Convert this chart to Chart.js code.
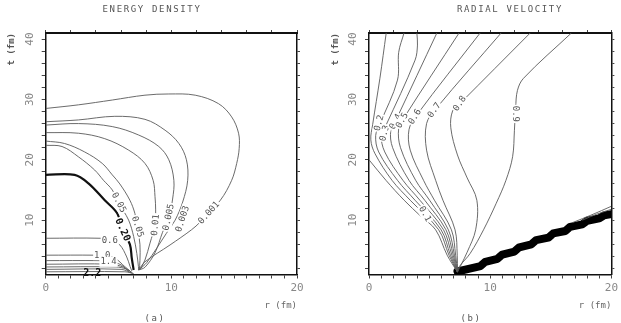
<!DOCTYPE html>
<html>
<head>
<meta charset="utf-8">
<title>Energy density and radial velocity</title>
<script src="https://cdn.jsdelivr.net/npm/chart.js@4.4.0/dist/chart.umd.min.js"></script>
<style>
  html, body { margin: 0; padding: 0; background: #fff; }
  #wrap { position: relative; width: 621px; height: 323px; overflow: hidden; }
  canvas { position: absolute; top: 0; }
  #left { left: 0; }
  #right { left: 324px; }
  .cap { position: absolute; font-family: "DejaVu Sans Mono", monospace; color: #555;
         white-space: nowrap; transform: translateX(-50%); }
  .head { top: 4px; font-size: 9px; letter-spacing: 1.65px; }
  .sub { top: 313px; font-size: 9px; letter-spacing: 1.5px; }
</style>
</head>
<body>
<div id="wrap">
  <canvas id="left" width="310" height="323"></canvas>
  <canvas id="right" width="297" height="323"></canvas>
  <div class="cap head" style="left:152px">ENERGY DENSITY</div>
  <div class="cap head" style="left:510px">RADIAL VELOCITY</div>
  <div class="cap sub" style="left:155px">(a)</div>
  <div class="cap sub" style="left:471px">(b)</div>
</div>
<script>
// tick labels shared by both panels
var xTickLabels = ["0", "10", "20"];
var yTickLabels = ["10", "20", "30", "40"];

// ---- (a) energy density contours, points are [r, t] in fm ----
var ed0001 = [[0,28.5],[2.6,29.1],[5.3,29.9],[7.9,30.7],[9.8,30.9],[11.9,30.7],[13.75,29.3],[14.8,27.1],[15.35,24.4],[15.4,21.9],[15.2,19.4],[14.8,16.6],[13.9,13.3],[12.3,9.7],[11.6,8.4],[9.9,5.9],[7.9,3.1],[7.4,1.75]];
var ed0003 = [[0,26.3],[2.6,26.6],[5.5,27.2],[7.9,26.7],[9.5,24.9],[10.6,22.7],[11.2,20.0],[11.3,16.6],[10.9,13.0],[10.3,10.0],[9.6,7.8],[8.05,3.0],[7.4,1.75]];
var ed0005 = [[0,25.75],[2.6,26.0],[5.3,25.5],[7.4,24.1],[9.0,22.2],[9.8,20.0],[10.2,16.6],[10.1,13.5],[9.8,10.5],[9.3,8.0],[8.7,4.6],[7.9,2.2],[7.4,1.75]];
var ed001 = [[0,24.5],[2.6,24.4],[4.7,23.5],[6.6,21.6],[7.9,19.4],[8.55,16.6],[8.7,13.9],[8.75,11.7],[8.7,9.2],[8.3,6.2],[7.9,3.4],[7.5,1.75]];
var ed005b = [[0,23.1],[1.5,22.7],[3.1,21.3],[4.5,19.4],[5.3,17.5],[5.9,16.0],[6.7,13.3],[7.1,11.1],[7.3,8.9],[7.5,6.0],[7.5,3.3],[7.45,1.75]];
var ed005a = [[0,22.4],[1.3,22.2],[2.6,20.5],[3.9,18.3],[4.6,16.6],[5.3,15.0],[5.8,12.9],[6.6,10.0],[7.0,7.3],[7.25,4.5],[7.38,2.3],[7.4,1.75]];
var ed020 = [[0,17.5],[2.3,17.5],[3.4,16.1],[4.7,13.3],[5.7,11.1],[6.1,8.4],[6.7,6.0],[6.85,3.7],[7.0,1.75]];
var ed06 = [[0,7.0],[4.4,7.0],[5.2,6.7],[5.9,5.9],[6.45,3.9],[6.72,2.3],[6.85,1.6]];
var ed10 = [[0,4.2],[3.9,4.2],[4.6,4.1],[5.5,3.7],[6.3,2.3],[6.7,1.6]];
var ed14 = [[0,3.3],[4.3,3.3],[5.0,3.2],[6.0,2.6],[6.6,1.5]];
var ed18 = [[0,2.7],[5.2,2.7],[6.2,2.2],[6.8,1.4]];
var ed22 = [[0,2.25],[5.6,2.25],[6.4,1.9],[6.9,1.3]];
var ed26 = [[0,1.85],[6.0,1.85],[6.9,1.2]];
var ed30 = [[0,1.45],[6.3,1.45],[7.0,1.15]];
var edLines = [ed0001, ed0003, ed0005, ed001, ed005b, ed005a, ed020, ed06, ed10, ed14, ed18, ed22, ed26, ed30];
var edLevels = ["0.001","0.003","0.005","0.01","0.05","0.05","0.20","0.6","1.0","1.4","1.8","2.2","2.6","3.0"];

// contour labels of (a)
var edLabelText = ["0.05","0.05","0.01","0.005","0.003","0.001","0.20","0.6","1.0","1.4","2.2"];
var edLabelR = [5.8, 7.3, 8.75, 9.8, 10.9, 13.0, 6.1, 5.1, 4.5, 5.0, 3.7];
var edLabelT = [12.9, 8.9, 9.2, 10.5, 10.2, 11.2, 8.4, 6.6, 4.2, 3.1, 1.1];
var edLabelAngle = [62, 72, -85, -78, -72, -48, 65, 0, 0, 0, 0];

// ---- (b) radial velocity contours, points are [r, t] in fm ----
var rv00 = [[0,20.0],[1.4,16.6],[2.9,13.3],[4.3,10.6],[5.5,8.4],[6.45,4.2],[7.3,1.4]];
var rv01 = [[1.42,41],[0.9,33.5],[0.3,25.8],[0.15,23.3],[0.5,21.0],[1.9,16.6],[3.4,13.3],[5.75,8.4],[6.6,4.2],[7.3,1.4]];
var rv02 = [[2.89,41],[2.45,37.8],[2.35,33.2],[0.9,25.9],[0.55,24.0],[0.8,21.3],[2.35,16.6],[3.8,13.3],[5.95,8.4],[6.72,4.2],[7.3,1.4]];
var rv03 = [[3.95,41],[4.0,39.0],[3.8,36.5],[1.35,25.5],[1.0,24.2],[1.3,21.3],[2.8,16.6],[4.2,13.3],[6.15,8.4],[6.84,4.2],[7.3,1.4]];
var rv04 = [[5.6,41],[2.3,26.9],[1.8,24.9],[1.95,22.0],[3.3,16.6],[4.6,13.3],[6.35,8.4],[6.95,4.2],[7.3,1.4]];
var rv05 = [[7.43,41],[2.9,27.0],[2.45,25.2],[2.6,22.0],[3.85,16.6],[5.0,13.3],[6.55,8.4],[7.05,4.2],[7.3,1.4]];
var rv06 = [[9.17,41],[3.9,27.3],[3.3,25.0],[3.4,21.6],[4.5,16.6],[5.4,13.3],[6.8,8.4],[7.15,4.2],[7.3,1.4]];
var rv07 = [[10.9,41],[5.5,28.4],[4.75,26.0],[4.75,21.6],[5.5,16.6],[6.1,13.3],[7.1,8.4],[7.28,4.2],[7.3,1.4]];
var rv08 = [[13.3,41],[7.5,29.3],[6.9,28.1],[6.75,25.3],[7.3,20.8],[8.1,17.0],[8.9,13.3],[8.8,8.4],[8.1,4.7],[7.6,2.6],[7.3,1.4]];
var rv09 = [[16.7,41],[12.75,33.5],[12.25,31.5],[12.1,28.6],[12.0,24.9],[11.85,20.5],[11.3,16.6],[10.5,12.8],[9.45,8.4],[8.35,4.5],[7.45,2.3],[7.3,1.4]];
var rvEdge1 = [[16.8,9.6],[18.4,10.9],[20,12.3]];
var rvEdge2 = [[17.6,10.0],[18.8,11.0],[20,11.8]];
var rvLines = [rv00, rv01, rv02, rv03, rv04, rv05, rv06, rv07, rv08, rv09, rvEdge1, rvEdge2];
var rvLevels = ["0.05","0.1","0.2","0.3","0.4","0.5","0.6","0.7","0.8","0.9","0.9","0.9"];

// the steep front (thick staircase band)
var rvShock = [[7.3,1.5],[8.4,2.0],[9.2,2.4],[9.6,3.1],[10.6,3.6],[11.0,4.3],[12.0,4.8],[12.4,5.5],[13.4,6.0],[13.8,6.7],[14.8,7.1],[15.2,7.8],[16.2,8.2],[16.6,8.9],[17.6,9.3],[18.0,9.9],[19.0,10.3],[19.4,10.8],[20,11.0]];

// contour labels of (b)
var rvLabelText = ["0.2","0.3","0.4","0.5","0.6","0.7","0.8","0.9","0.1"];
var rvLabelR = [0.85, 1.3, 2.2, 2.75, 3.8, 5.4, 7.5, 12.1, 4.6];
var rvLabelT = [26.1, 24.4, 26.3, 26.5, 27.1, 28.2, 29.3, 27.6, 11.0];
var rvLabelAngle = [-75, -75, -62, -62, -58, -55, -55, 90, 62];

var monoFont = '"DejaVu Sans Mono", monospace';

//Draws the inline contour labels with a white gap behind them
function labelPlugin(texts, rs, ts, angles) {
    return {
        id: "contourLabels",
        afterDatasetsDraw: function (chart) {
            var ctx = chart.ctx;
            var xs = chart.scales.x, ys = chart.scales.y;
            for (var i = 0; i < texts.length; i++) {
                var bold = texts[i] === "0.20" || texts[i] === "2.2";
                var px = xs.getPixelForValue(rs[i]);
                var py = ys.getPixelForValue(ts[i]);
                ctx.save();
                ctx.translate(px, py);
                ctx.rotate(angles[i] * Math.PI / 180);
                ctx.font = (bold ? "bold 10px " : "9px ") + monoFont;
                var w = ctx.measureText(texts[i]).width;
                if (ts[i] > 1.5) {
                    ctx.fillStyle = "#fff";
                    ctx.fillRect(-w / 2 - 1, -5, w + 2, 10);
                }
                ctx.fillStyle = bold ? "#111" : "#555";
                ctx.textAlign = "center";
                ctx.textBaseline = "middle";
                ctx.fillText(texts[i], 0, 0);
                ctx.restore();
            }
        }
    };
}

function tickList(from, to, step) {
    var out = [];
    for (var v = from; v <= to; v += step) out.push({ value: v });
    return out;
}

function makeScales(leftW, rightW) {
    return {
        x: {
            type: "linear", position: "bottom", min: 0, max: 20,
            afterBuildTicks: function (ax) { ax.ticks = tickList(0, 20, 1); },
            afterFit: function (ax) { ax.height = 48.5; },
            ticks: {
                autoSkip: false, maxRotation: 0, padding: 3, color: "#888",
                font: { family: monoFont, size: 11 },
                callback: function (v) { return xTickLabels.indexOf(String(v)) >= 0 ? String(v) : ""; }
            },
            grid: { drawOnChartArea: false, tickLength: 4, color: "#444" },
            border: { display: true, color: "#111", width: 1.5 },
            title: {
                display: true, text: "r (fm)", align: "end", color: "#666",
                font: { family: monoFont, size: 9 }, padding: { top: 0, bottom: 12 }
            }
        },
        y: {
            type: "linear", position: "left", min: 1, max: 41,
            afterBuildTicks: function (ax) { ax.ticks = tickList(2, 40, 2); },
            afterFit: function (ax) { ax.width = leftW; },
            ticks: {
                autoSkip: false, minRotation: 90, crossAlign: "center", padding: 5, color: "#888",
                font: { family: monoFont, size: 11 },
                callback: function (v) { return yTickLabels.indexOf(String(v)) >= 0 ? String(v) : ""; }
            },
            grid: { drawOnChartArea: false, tickLength: 4, color: "#444" },
            border: { display: true, color: "#111", width: 1.5 },
            title: {
                display: true, text: "t (fm)", align: "end", color: "#555",
                font: { family: monoFont, size: 9, weight: "bold" }, padding: { top: 6, bottom: 0 }
            }
        },
        xt: {
            type: "linear", position: "top", min: 0, max: 20,
            afterBuildTicks: function (ax) { ax.ticks = tickList(0, 20, 2); },
            afterFit: function (ax) { ax.height = 33; },
            ticks: { display: false },
            grid: { drawOnChartArea: false, tickLength: 3, color: "#444" },
            border: { display: true, color: "#111", width: 2 }
        },
        yr: {
            type: "linear", position: "right", min: 1, max: 41,
            afterBuildTicks: function (ax) { ax.ticks = tickList(2, 40, 2); },
            afterFit: function (ax) { ax.width = rightW; },
            ticks: { display: false },
            grid: { drawOnChartArea: false, tickLength: 3, color: "#444" },
            border: { display: true, color: "#111", width: 1.5 }
        }
    };
}

function lineSets(lines, levels) {
    return lines.map(function (pts, i) {
        var bold = levels[i] === "0.20";
        return {
            label: levels[i],
            data: pts,
            showLine: true,
            pointRadius: 0,
            fill: false,
            tension: 0.35,
            borderColor: bold ? "#111" : "#5a5a5a",
            borderWidth: bold ? 2.2 : 0.9
        };
    });
}

var baseOptions = function (leftW, rightW) {
    return {
        responsive: false,
        animation: false,
        events: [],
        layout: { padding: 0, autoPadding: false },
        plugins: { legend: { display: false }, tooltip: { enabled: false }, title: { display: false } },
        scales: makeScales(leftW, rightW)
    };
};

//Creates panel (a)
new Chart(document.getElementById("left"), {
    type: "scatter",
    data: { datasets: lineSets(edLines, edLevels) },
    options: baseOptions(45.7, 13),
    plugins: [labelPlugin(edLabelText, edLabelR, edLabelT, edLabelAngle)]
});

//Creates panel (b)
var rvSets = lineSets(rvLines, rvLevels);
rvSets.push({
    label: "front",
    data: rvShock,
    showLine: true,
    pointRadius: 0,
    fill: false,
    tension: 0,
    borderColor: "#000",
    borderWidth: 8,
    borderJoinStyle: "round",
    borderCapStyle: "round"
});
new Chart(document.getElementById("right"), {
    type: "scatter",
    data: { datasets: rvSets },
    options: baseOptions(45, 2.5),
    plugins: [labelPlugin(rvLabelText, rvLabelR, rvLabelT, rvLabelAngle)]
});
</script>
</body>
</html>
